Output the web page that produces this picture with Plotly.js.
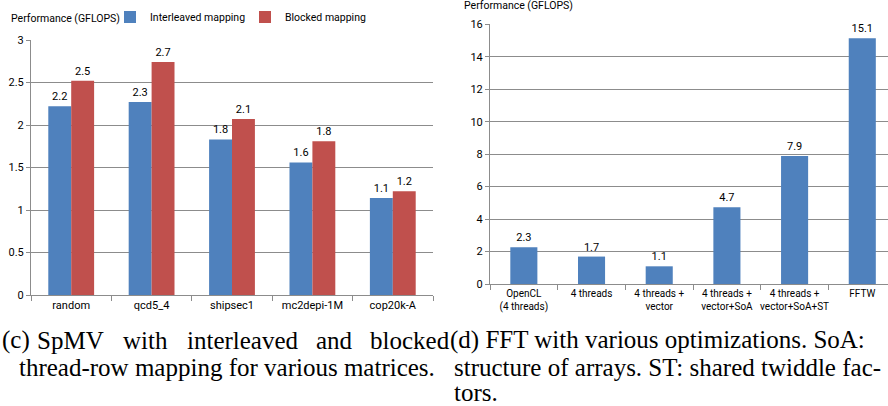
<!DOCTYPE html>
<html><head><meta charset="utf-8">
<script src="https://cdn.plot.ly/plotly-3.0.1.min.js"></script>
<style>html,body{margin:0;padding:0;background:#fff;overflow:hidden;} #chart{width:888px;height:406px;}</style>
</head><body><div id="chart"></div>
<script>
// ---- data ----
const spmvMatrices = ["random", "qcd5_4", "shipsec1", "mc2depi-1M", "cop20k-A"];
const interleavedGflops = [2.22, 2.27, 1.83, 1.56, 1.14];
const blockedGflops = [2.52, 2.74, 2.07, 1.81, 1.22];
const fftVariants = ["OpenCL<br>(4 threads)", "4 threads", "4 threads +<br>vector",
  "4 threads +<br>vector+SoA", "4 threads +<br>vector+SoA+ST", "FFTW"];
const fftGflops = [2.27, 1.69, 1.09, 4.73, 7.88, 15.14];
const spmvTicks = [0, 0.5, 1, 1.5, 2, 2.5, 3];
const fftTicks = [0, 2, 4, 6, 8, 10, 12, 14, 16];

// ---- styling ----
const W = 888, H = 406;
const px = v => v / W;
const py = v => 1 - v / H;
const SANS = "'Liberation Sans Narrow', 'Arial Narrow', Roboto, sans-serif";
const SERIF = "'Liberation Serif', 'DejaVu Serif', serif";
const BLUE = "#4F81BD", RED = "#C0504D", GRID = "#8C8C8C";
const lblFont = {family: SANS, size: 11, color: "#000"};

const traces = [
  {type: "bar", name: "Interleaved mapping", x: spmvMatrices, y: interleavedGflops,
   marker: {color: BLUE}, texttemplate: "%{y:.1f}", textposition: "outside",
   constraintext: "none", cliponaxis: false, textfont: lblFont,
   xaxis: "x", yaxis: "y", hoverinfo: "skip"},
  {type: "bar", name: "Blocked mapping", x: spmvMatrices, y: blockedGflops,
   marker: {color: RED}, texttemplate: "%{y:.1f}", textposition: "outside",
   constraintext: "none", cliponaxis: false, textfont: lblFont,
   xaxis: "x", yaxis: "y", hoverinfo: "skip"},
  {type: "bar", name: "FFT", x: fftVariants, y: fftGflops, showlegend: false,
   marker: {color: BLUE}, texttemplate: "%{y:.1f}", textposition: "outside",
   constraintext: "none", cliponaxis: false, textfont: lblFont,
   xaxis: "x2", yaxis: "y2", width: 0.4, hoverinfo: "skip"}
];

const xCommon = {type: "category", showgrid: false, showline: true, linecolor: GRID, linewidth: 1,
  ticks: "outside", tickson: "boundaries", ticklen: 5, tickcolor: GRID, tickangle: 0,
  tickfont: {family: SANS, size: 11, color: "#000"}, fixedrange: true};
const yCommon = {showgrid: true, gridcolor: GRID, gridwidth: 1, showline: true, linecolor: GRID,
  ticks: "outside", ticklen: 4, tickcolor: GRID, zeroline: false,
  tickfont: {family: SANS, size: 11, color: "#000"}, fixedrange: true};

const layout = {
  width: W, height: H,
  margin: {l: 0, r: 0, t: 0, b: 0, pad: 0},
  paper_bgcolor: "#fff", plot_bgcolor: "#fff",
  barmode: "group", bargap: 0.43, bargroupgap: 0,
  font: {family: SANS, size: 11, color: "#000"},
  xaxis: Object.assign({}, xCommon, {domain: [px(31), px(433)], anchor: "y", range: [-0.5, 4.5]}),
  yaxis: Object.assign({}, yCommon, {domain: [py(295), py(40)], anchor: "x", range: [0, 3],
    tickvals: spmvTicks, ticktext: spmvTicks.map(String)}),
  xaxis2: Object.assign({}, xCommon, {domain: [px(490), 1], anchor: "y2", range: [-0.5, 5.38],
    tickfont: {family: SANS, size: 10, color: "#000"}}),
  yaxis2: Object.assign({}, yCommon, {domain: [py(284), py(24.3)], anchor: "x2", range: [0, 16],
    tickvals: fftTicks, ticktext: fftTicks.map(String)}),
  showlegend: true,
  legend: {orientation: "h", x: px(110), y: py(17), xanchor: "left", yanchor: "middle",
    font: {family: SANS, size: 10.5, color: "#000"}, bgcolor: "rgba(0,0,0,0)",
    itemwidth: 30, entrywidth: 90, entrywidthmode: "pixels",
    itemclick: false, itemdoubleclick: false, tracegroupgap: 0},
  annotations: [
    {text: "Performance (GFLOPS)", xref: "paper", yref: "paper", x: px(9), y: py(18),
     xanchor: "left", yanchor: "middle", showarrow: false, font: {family: SANS, size: 10.5, color: "#000"}},
    {text: "Performance (GFLOPS)", xref: "paper", yref: "paper", x: px(462), y: py(6),
     xanchor: "left", yanchor: "middle", showarrow: false, font: {family: SANS, size: 10.5, color: "#000"}}
  ]
};

// captions (LaTeX-like, justified first line on the left)
const capFont = {family: SERIF, size: 25, color: "#000"};
const cap = (t, x, y, xa) => layout.annotations.push({text: t, xref: "paper", yref: "paper",
  x: px(x), y: py(y), xanchor: xa, yanchor: "middle", showarrow: false, font: capFont});
cap("(c)", 0, 340, "left");
const leftWords = [["SpMV", 70.5], ["with", 145.5], ["interleaved", 242.5], ["and", 334], ["blocked", 410]];
leftWords.forEach(([t, cx]) => cap(t, cx, 340, "center"));
cap("thread-row mapping for various matrices.", 437, 367, "right");
cap("(d) FFT with various optimizations. SoA:", 448, 340, "left");
cap("structure of arrays. ST: shared twiddle fac-", 452, 367, "left");
cap("tors.", 452, 392, "left");

Plotly.newPlot("chart", traces, layout, {displayModeBar: false, staticPlot: true});
</script>
</body></html>
